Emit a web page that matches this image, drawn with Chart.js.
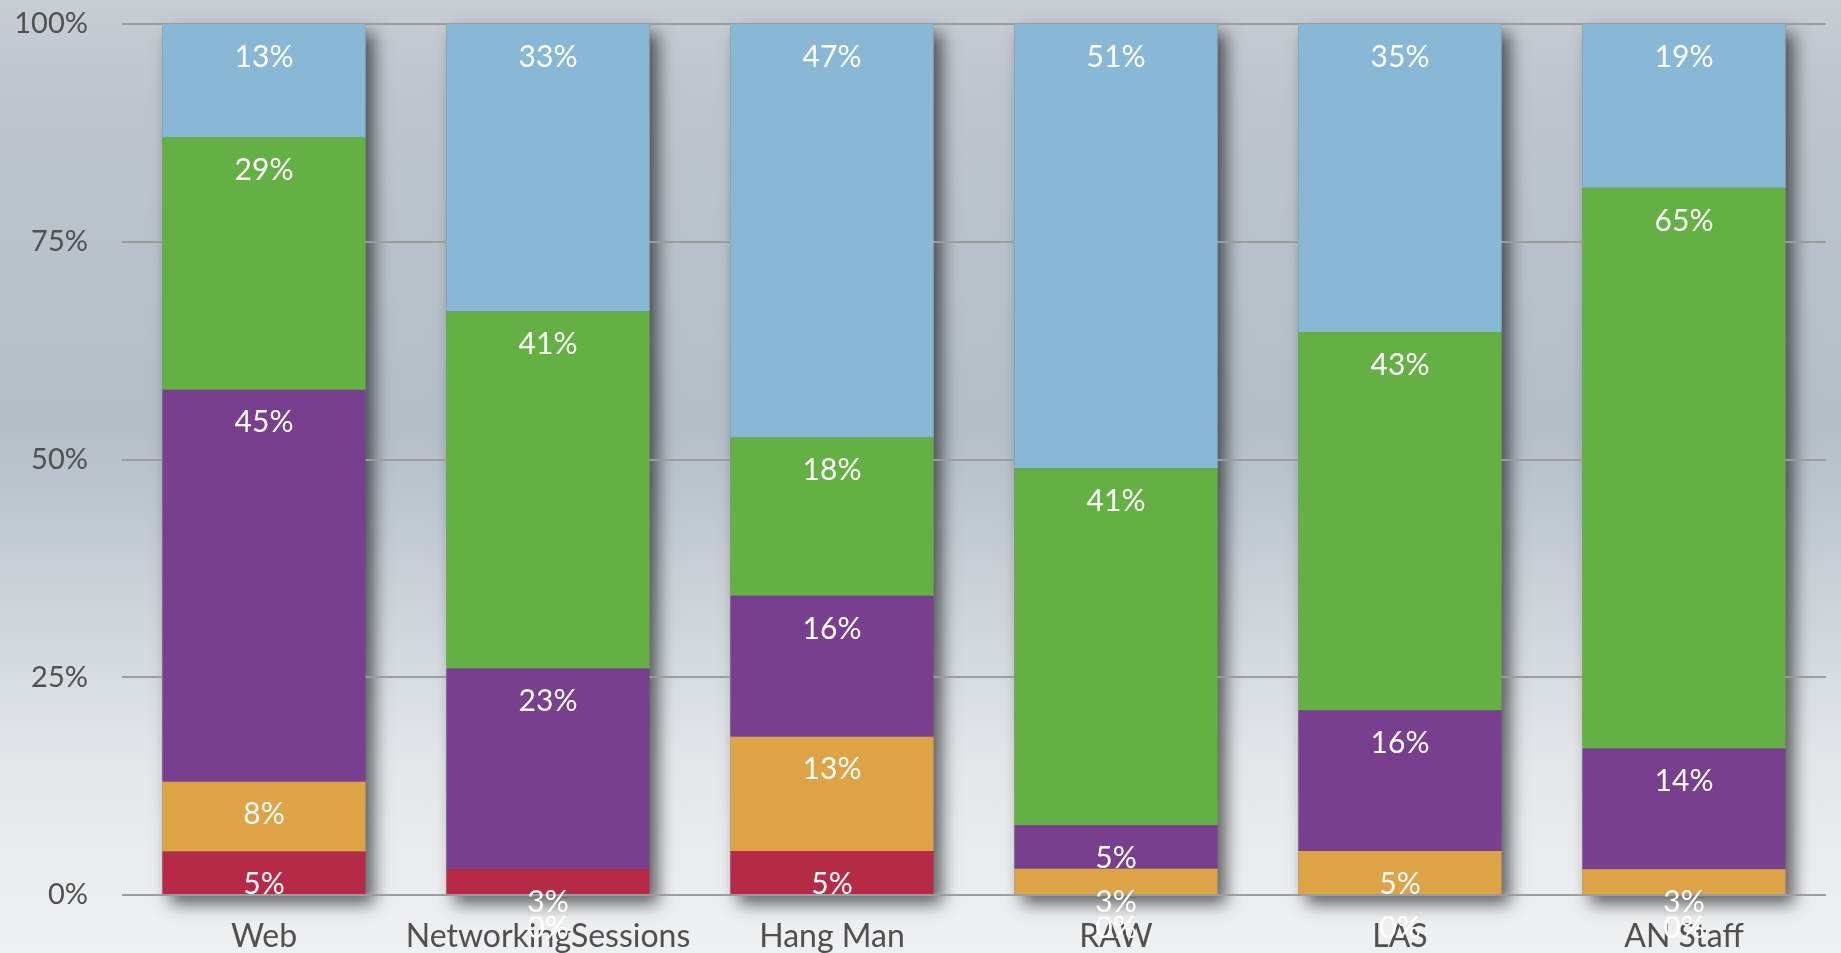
<!DOCTYPE html>
<html>
<head>
<meta charset="utf-8">
<title>Stacked shares by channel</title>
<script src="https://cdn.jsdelivr.net/npm/chart.js@4"></script>
<style>
  html, body { margin: 0; padding: 0; overflow: hidden; }
  canvas { display: block; }
</style>
</head>
<body>
<canvas id="chart" width="1841" height="953"></canvas>
<script>
// Categories along the x axis
const categories = ['Web', 'NetworkingSessions', 'Hang Man', 'RAW', 'LAS', 'AN Staff'];

// Percent shares per category, bottom segment first
const redShares    = [5, 3, 5, 0, 0, 0];
const orangeShares = [8, 0, 13, 3, 5, 3];
const purpleShares = [45, 23, 16, 5, 16, 14];
const greenShares  = [29, 41, 18, 41, 43, 65];
const blueShares   = [13, 33, 47, 51, 35, 19];

// Y axis tick labels
const yTickValues = [0, 25, 50, 75, 100];
const yTickLabels = ['0%', '25%', '50%', '75%', '100%'];

const seriesValues = [redShares, orangeShares, purpleShares, greenShares, blueShares];
const seriesColors = ['#b52b47', '#dfa347', '#773f8d', '#64b045', '#89b8d7'];

// Each column is scaled so that its segments fill 100%
const totals = categories.map((_, j) => seriesValues.reduce((s, arr) => s + arr[j], 0));
const datasets = seriesValues.map((arr, i) => ({
  data: arr.map((v, j) => v / totals[j] * 100),
  raw: arr,
  backgroundColor: seriesColors[i],
  borderWidth: 0,
  categoryPercentage: 1.0,
  barPercentage: 0.715
}));

const FONT = 'Lato, "Open Sans", sans-serif';

// Backdrop gradient and the soft drop shadow behind every column
const backdropPlugin = {
  id: 'backdrop',
  beforeDraw(chart) {
    const { ctx, width, height, scales } = chart;
    ctx.save();
    const g = ctx.createLinearGradient(0, 0, 0, height);
    g.addColorStop(0.00, '#c8cdd4');
    g.addColorStop(0.10, '#bec5cc');
    g.addColorStop(0.45, '#b3bec7');
    g.addColorStop(0.65, '#cfd5db');
    g.addColorStop(0.80, '#e4e7ea');
    g.addColorStop(1.00, '#eff0f2');
    ctx.fillStyle = g;
    ctx.fillRect(0, 0, width, height);

    const meta = chart.getDatasetMeta(0);
    const yTop = scales.y.getPixelForValue(100);
    const yBot = scales.y.getPixelForValue(0);
    ctx.shadowColor = 'rgba(0,0,0,0.6)';
    ctx.shadowBlur = 16;
    ctx.shadowOffsetX = 8;
    ctx.shadowOffsetY = 9;
    ctx.fillStyle = '#777';
    meta.data.forEach(bar => {
      const w = bar.width;
      ctx.fillRect(bar.x - w / 2, yTop, w, yBot - yTop);
    });
    ctx.restore();
  }
};

// White percentage labels near the top of each segment
const segmentLabels = {
  id: 'segmentLabels',
  afterDatasetsDraw(chart) {
    const { ctx, scales } = chart;
    const base = scales.y.getPixelForValue(0);
    ctx.save();
    ctx.font = '30px ' + FONT;
    ctx.fillStyle = '#ffffff';
    ctx.textAlign = 'center';
    ctx.textBaseline = 'middle';
    chart.data.datasets.forEach((ds, i) => {
      const meta = chart.getDatasetMeta(i);
      meta.data.forEach((bar, j) => {
        const v = ds.raw[j];
        const top = v === 0 ? base : bar.y;
        ctx.fillText(v + '%', bar.x, top + 33);
      });
    });
    ctx.restore();
  }
};

new Chart(document.getElementById('chart'), {
  type: 'bar',
  data: { labels: categories, datasets },
  options: {
    responsive: false,
    animation: false,
    devicePixelRatio: 1,
    layout: { padding: { top: 24, right: 15, left: 0, bottom: 0 } },
    plugins: { legend: { display: false }, tooltip: { enabled: false }, title: { display: false } },
    scales: {
      x: {
        stacked: true,
        grid: { display: false, drawTicks: false },
        border: { display: false },
        ticks: { color: '#505050', font: { family: FONT, size: 32 }, padding: 22, maxRotation: 0, autoSkip: false },
        afterFit(scale) { scale.height = 58; scale.paddingTop = 0; scale.paddingBottom = 0; }
      },
      y: {
        stacked: true,
        min: 0,
        max: 100,
        afterBuildTicks(scale) { scale.ticks = yTickValues.map(v => ({ value: v })); },
        grid: { color: '#9c9c9c', lineWidth: 2, drawTicks: false },
        border: { display: false },
        ticks: {
          color: '#505050',
          font: { family: FONT, size: 29 },
          padding: 34,
          callback: (v) => yTickLabels[yTickValues.indexOf(v)]
        },
        afterFit(scale) { scale.width = 122; scale.paddingTop = 0; scale.paddingBottom = 0; }
      }
    }
  },
  plugins: [backdropPlugin, segmentLabels]
});
</script>
</body>
</html>
